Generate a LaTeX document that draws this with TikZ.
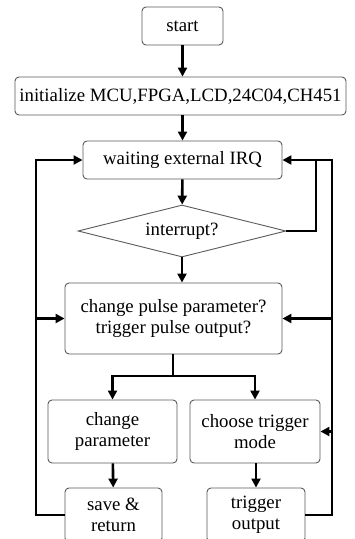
\documentclass[tikz,border=0pt]{standalone}
\usepackage{fontspec}
\setmainfont{Liberation Serif}
\usetikzlibrary{shapes.geometric,arrows.meta}
\begin{document}
\begin{tikzpicture}[x=1pt,y=-1pt,
  box/.style={draw=black!65,line width=0.9pt,rounded corners=4pt,align=center,inner sep=0pt,
    font=\fontsize{18.8}{20.5}\selectfont},
  dia/.style={draw=black!65,line width=0.9pt,shape=diamond,shape aspect=4,inner sep=0pt,
    font=\fontsize{18.8}{20.5}\selectfont},
  conn/.style={draw=black,line width=2.6pt},
  arr/.style={conn,-{Triangle[length=9pt,width=9pt]}}]
\useasboundingbox (0,0) rectangle (355,539);
\clip (0,0) rectangle (355,539);
\node[box,minimum width=81pt,minimum height=38pt] (start) at (182.5,26) {start};
\node[box,minimum width=331pt,minimum height=38pt] (init) at (180.5,96) {initialize MCU,FPGA,LCD,24C04,CH451};
\node[box,minimum width=199pt,minimum height=38pt] (wait) at (182.5,160) {waiting external IRQ};
\node[dia,minimum width=208pt,minimum height=52pt] (ir) at (182,231) {interrupt?};
\node[box,minimum width=217pt,minimum height=71pt] (chg) at (173.5,318.5) {change pulse parameter?\\trigger pulse output?};
\node[box,minimum width=129pt,minimum height=63pt] (cp) at (112.5,431.5) {change\\parameter};
\node[box,minimum width=130pt,minimum height=63pt] (ctm) at (255,431.5) {choose trigger\\mode};
\node[box,minimum width=97pt,minimum height=54pt] (save) at (113.5,515) {save \&\\return};
\node[box,minimum width=98pt,minimum height=54pt] (trig) at (256,515) {trigger\\output};
\coordinate (lt) at (36,160);
\coordinate (rj) at (316,160);
\coordinate (ro) at (332,160);
\coordinate (sp) at (173,376);
\draw[arr] (start) -- (start |- init.north);
\draw[arr] (init.south -| start) -- (start |- wait.north);
\draw[arr] (wait) -- (ir);
\draw[arr] (ir.south) -- (ir.south |- chg.north);
\draw[conn,line width=2pt] (ir.east) -| (rj);
\draw[arr] (trig.east) -| (ro) -- (wait.east);
\draw[arr] (save.west) -| (lt) -- (wait.west);
\draw[arr] (lt |- chg.west) -- (chg.west);
\draw[arr] (ro |- chg.east) -- (chg.east);
\draw[arr] (ro |- ctm.east) -- (ctm.east);
\draw[conn] (sp |- chg.south) -- (sp);
\draw[arr] (sp) -| (cp.north);
\draw[arr] (sp) -| (ctm.north);
\draw[arr] (cp) -- (save);
\draw[arr] (ctm.south -| trig) -- (trig.north);
\end{tikzpicture}
\end{document}
